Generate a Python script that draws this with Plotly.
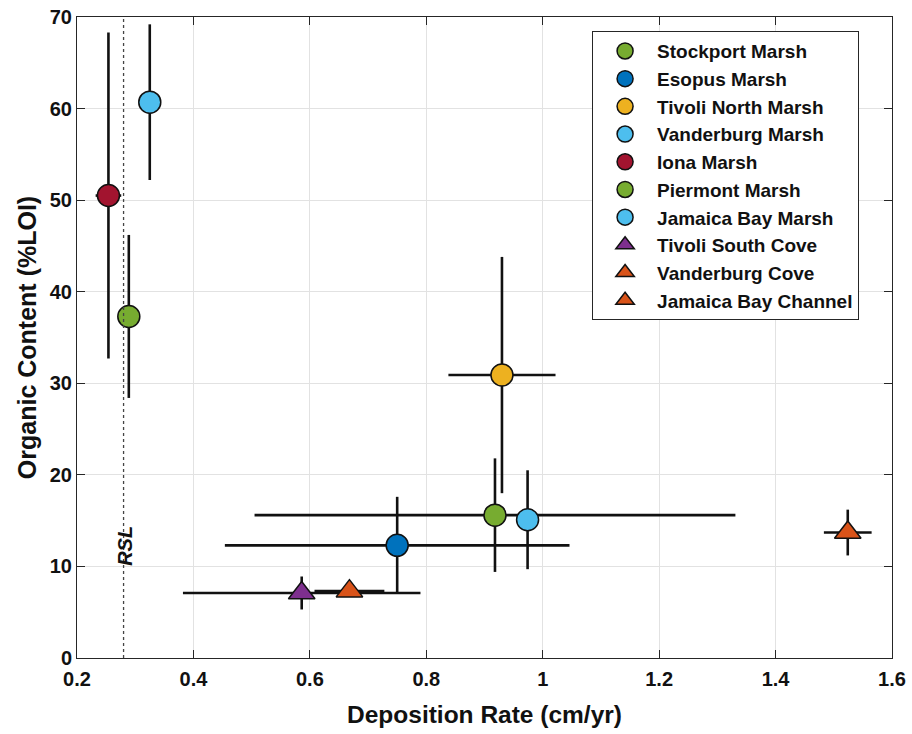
import plotly.graph_objects as go

# ---- data ----
sites = ["Stockport Marsh", "Esopus Marsh", "Tivoli North Marsh", "Vanderburg Marsh",
         "Iona Marsh", "Piermont Marsh", "Jamaica Bay Marsh", "Tivoli South Cove",
         "Vanderburg Cove", "Jamaica Bay Channel"]
dep_rate = [0.918, 0.750, 0.930, 0.974, 0.254, 0.289, 0.325, 0.586, 0.668, 1.524]
organic = [15.6, 12.3, 30.9, 15.1, 50.5, 37.3, 60.7, 7.1, 7.3, 13.7]
dep_err = [0.413, 0.296, 0.092, 0.0, 0.022, 0.0, 0.0, 0.204, 0.060, 0.041]
org_err = [6.2, 5.3, 12.9, 5.4, 17.8, 8.9, 8.5, 1.8, 0.0, 2.5]
site_type = ["marsh"] * 7 + ["cove"] * 3
colors = ["#77AC30", "#0072BD", "#EDB120", "#4DBEEE", "#A2142F", "#77AC30",
          "#4DBEEE", "#7E2F8E", "#D95319", "#D95319"]
rsl = 0.28
x_ticks = [0.2, 0.4, 0.6, 0.8, 1.0, 1.2, 1.4, 1.6]
x_ticktext = ["0.2", "0.4", "0.6", "0.8", "1", "1.2", "1.4", "1.6"]
y_ticks = [0, 10, 20, 30, 40, 50, 60, 70]

FONT = "Liberation Sans, Arial, Helvetica, sans-serif"
AX = "#262626"
INK = "#111111"

fig = go.Figure()
for i, name in enumerate(sites):
    is_marsh = site_type[i] == "marsh"
    fig.add_trace(go.Scatter(
        x=[dep_rate[i]], y=[organic[i]], name=name, mode="markers",
        legendgroup=name,
        marker=dict(symbol="circle" if is_marsh else "triangle-up",
                    size=22 if is_marsh else 23, color=colors[i],
                    line=dict(color=INK, width=1.5)),
        error_x=dict(type="data", array=[dep_err[i]], visible=dep_err[i] > 0,
                     color=INK, thickness=2.6, width=0),
        error_y=dict(type="data", array=[org_err[i]], visible=org_err[i] > 0,
                     color=INK, thickness=2.6, width=0),
    ))

fig.add_shape(type="line", xref="x", yref="y", x0=rsl, x1=rsl, y0=0, y1=70,
              line=dict(color="#444444", width=1.3, dash="dot"), layer="above")
fig.add_annotation(x=rsl, y=12.2, xref="x", yref="y", text="RSL", showarrow=False,
                   textangle=-90, xshift=2,
                   font=dict(family=FONT, size=20, color=INK, weight="bold",
                             style="italic"))

fig.update_layout(
    width=912, height=734,
    margin=dict(l=77, r=20, t=17, b=76),
    paper_bgcolor="white", plot_bgcolor="white",
    font=dict(family=FONT, color=INK, size=20, weight="bold"),
    showlegend=True,
    legend=dict(x=0.632, y=0.978, xanchor="left", yanchor="top",
                bgcolor="white", bordercolor=AX, borderwidth=1,
                font=dict(family=FONT, size=19, color=INK, weight="bold"),
                tracegroupgap=0, itemwidth=54),
)
fig.update_xaxes(
    range=[0.2, 1.6], tickvals=x_ticks, ticktext=x_ticktext, automargin=False,
    showgrid=True, gridcolor="#e2e2e2", gridwidth=1, zeroline=False,
    showline=True, linecolor=AX, linewidth=1, mirror="ticks",
    ticks="inside", ticklen=8, tickcolor=AX, ticklabelstandoff=3,
    tickfont=dict(family=FONT, size=20, weight="bold", color=INK),
    title=dict(text="Deposition Rate (cm/yr)", standoff=16,
               font=dict(family=FONT, size=24.5, weight="bold", color=INK)),
)
fig.update_yaxes(
    range=[0, 70], tickvals=y_ticks, automargin=False,
    showgrid=True, gridcolor="#e2e2e2", gridwidth=1, zeroline=False,
    showline=True, linecolor=AX, linewidth=1, mirror="ticks",
    ticks="inside", ticklen=8, tickcolor=AX,
    tickfont=dict(family=FONT, size=20, weight="bold", color=INK),
    title=dict(text="Organic Content (%LOI)", standoff=6,
               font=dict(family=FONT, size=25, weight="bold", color=INK)),
)

fig.write_html("out.html")
